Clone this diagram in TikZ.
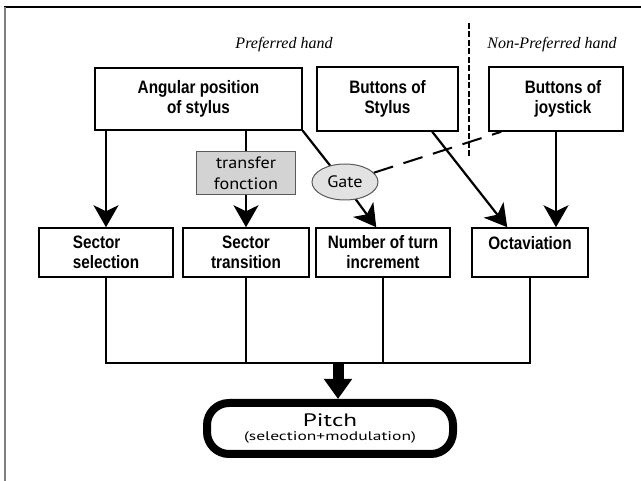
\documentclass[tikz,border=0pt]{standalone}
\usepackage{fontspec}
\setmainfont{Liberation Serif}
\newfontfamily\bxfont[FakeStretch=0.85]{Liberation Sans}
\newfontfamily\mfont[FakeStretch=1.1]{PT Sans}
\newfontfamily\pfont[FakeStretch=1.4]{PT Sans}
\usetikzlibrary{arrows.meta,calc,shapes.geometric}
\definecolor{tfgray}{RGB}{211,211,211}
\definecolor{gategray}{RGB}{226,226,226}
\definecolor{edgegray}{RGB}{90,90,90}
\begin{document}
\begin{tikzpicture}[x=1pt,y=-1pt,
  bbox/.style={draw,line width=1.5pt,align=center,inner sep=0pt,
    font=\bxfont\bfseries\fontsize{18}{20}\selectfont},
  handlbl/.style={font=\itshape\fontsize{16}{18}\selectfont,inner sep=0pt},
  arr/.style={line width=2.2pt,-{Stealth[length=22pt,width=25pt,inset=6pt]}},
  plain/.style={line width=2.2pt},
  busline/.style={line width=2.6pt,line join=miter},
  dashlink/.style={line width=2pt,dash pattern=on 20pt off 11pt},
  divider/.style={line width=1.8pt,dash pattern=on 6pt off 2.5pt},
]
\useasboundingbox (0,0) rectangle (641,481);
% frame
\coordinate (ftl) at (4,7);
\coordinate (ftr) at (641,7);
\coordinate (fbl) at (5,481);
\draw[line width=1.5pt] (ftl) -- (ftr);
\draw[gray,line width=2pt] (5,7) -- (fbl);

% hand labels and divider
\node[handlbl] (ph) at (284,45) {Preferred hand};
\node[handlbl] (nph) at (552,45) {Non-Preferred hand};
\coordinate (dvt) at (469,23);
\coordinate (dvb) at (469,157);
\draw[divider] (dvt) -- (dvb);

% top row
\node[bbox,minimum width=207pt,minimum height=62pt] (ang) at (198.5,99)
  {Angular position\\of stylus};
\node[bbox,minimum width=141pt,minimum height=64pt] (sty) at (387.5,99)
  {Buttons of\\Stylus};
\node[bbox,minimum width=134pt,minimum height=64pt] (joy) at (556,99)
  {\hspace*{14pt}Buttons of\\\hspace*{14pt}joystick};

% transfer function
\node[draw=edgegray,fill=tfgray,line width=1pt,minimum width=99pt,minimum height=43pt,
  inner sep=0pt,align=center,font=\mfont\fontsize{16.5}{21}\selectfont] (tf) at (246,173.5)
  {transfer\\fonction};
% second row
\node[bbox,minimum width=134pt,minimum height=49pt,align=left] (ss) at (106,252.5)
  {Sector\\selection};
\node[bbox,minimum width=126pt,minimum height=49pt] (st) at (246,252.5)
  {Sector\\transition};
\node[bbox,minimum width=134pt,minimum height=49pt] (num) at (383,252.5)
  {Number of turn\\increment};
\node[bbox,minimum width=116pt,minimum height=49pt] (oct) at (530,252.5)
  {Octaviation\\\mbox{}};

% connector end points
\coordinate (numin) at ($(num.north west)+(61,0)$);
\coordinate (styout) at ($(sty.south west)+(116,0)$);
\coordinate (octin) at ($(oct.north west)+(36,0)$);
\coordinate (joyc) at ($(joy.south west)+(13,0)$);
\coordinate (gc) at (343,182);

% arrows
\draw[arr] (ang.south -| ss) -- (ss.north);
\draw[plain] (tf.north |- ang.south) -- (tf.north);
\draw[arr] (tf.south) -- (st.north);
\draw[plain] (ang.south east) -- (gc);
\draw[arr] (gc) -- (numin);
\draw[arr] (styout) -- (octin);
\draw[arr] (joy.south) -- (oct.north -| joy.south);

% gate over the line
\node[ellipse,draw=edgegray,fill=gategray,line width=1pt,minimum width=66pt,minimum height=36pt,
  inner sep=0pt,font=\mfont\fontsize{16.5}{20}\selectfont] (gate) at (345,182) {Gate};
\draw[dashlink] (gate) -- (joyc);

% bus
\coordinate (bus) at (0,363);
\draw[busline] (ss.south) -- (ss.south |- bus) -- (oct.south |- bus) -- (oct.south);
\draw[busline] (st.south) -- (st.south |- bus);
\draw[busline] (num.south) -- (num.south |- bus);

% pitch
\node[draw,line width=8pt,rounded corners=22pt,minimum width=246pt,minimum height=51pt,
  inner sep=0pt,align=center,font=\pfont\fontsize{18}{13.5}\selectfont] (pitch) at (330,428.5)
  {Pitch\\\fontsize{12.5}{13.5}\selectfont(selection+modulation)};
\coordinate (tk) at (338,363);
\draw[line width=11pt,-{Triangle[width=27pt,length=20pt]}] (tk) -- (pitch.north -| tk);
\end{tikzpicture}
\end{document}
